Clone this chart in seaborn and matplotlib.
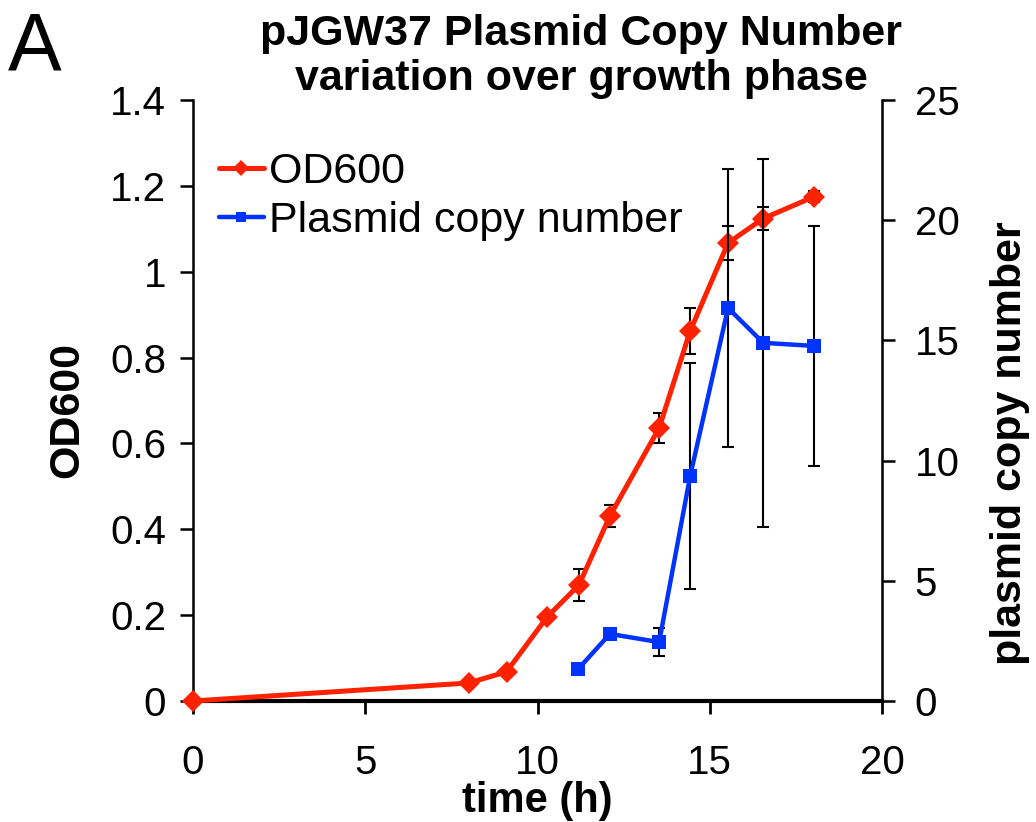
import matplotlib
matplotlib.use("Agg")
import matplotlib.pyplot as plt
import matplotlib.ticker as mticker
import seaborn as sns
import pandas as pd

# OD600 readings
od_time = [0, 8.0, 9.1, 10.28, 11.2, 12.1, 13.53, 14.43, 15.53, 16.55, 18.03]
od_val = [0, 0.042, 0.068, 0.196, 0.27, 0.431, 0.636, 0.862, 1.067, 1.124, 1.175]
od_err = [0, 0.003, 0.01, 0.0, 0.038, 0.025, 0.035, 0.054, 0.04, 0.026, 0.012]

# plasmid copy number
pcn_time = [11.18, 12.1, 13.53, 14.43, 15.53, 16.55, 18.03]
pcn_val = [1.33, 2.79, 2.45, 9.36, 16.35, 14.9, 14.77]
pcn_err = [0, 0, 0.57, 4.7, 5.8, 7.65, 5.0]

red = "#FF2200"
blue = "#0033FF"

sns.set_style("ticks")
plt.rcParams["font.family"] = ["Liberation Sans", "DejaVu Sans"]
for k in ("text.color", "axes.labelcolor", "xtick.color", "ytick.color", "axes.edgecolor"):
    plt.rcParams[k] = "black"

df_od = pd.DataFrame({"time": od_time, "od": od_val})
df_pcn = pd.DataFrame({"time": pcn_time, "pcn": pcn_val})

fig = plt.figure(figsize=(10.36, 8.22), dpi=100)
ax = fig.add_axes([0.1863, 0.1472, 0.8514 - 0.1863, 0.8783 - 0.1472])
ax2 = ax.twinx()

sns.lineplot(data=df_od, x="time", y="od", ax=ax, color=red, lw=3.6,
             marker="D", markersize=11, markeredgewidth=0, label="OD600",
             legend=False, clip_on=False, zorder=3)
ax.errorbar(od_time, od_val, yerr=od_err, fmt="none", ecolor="black",
            elinewidth=1.5, capsize=4.5, capthick=1.5, zorder=2)

sns.lineplot(data=df_pcn, x="time", y="pcn", ax=ax2, color=blue, lw=3.2,
             marker="s", markersize=10, markeredgewidth=0,
             label="Plasmid copy number", legend=False, zorder=3)
ax2.errorbar(pcn_time, pcn_val, yerr=pcn_err, fmt="none", ecolor="black",
             elinewidth=1.5, capsize=4.5, capthick=1.5, zorder=2)

ax.set_xlim(0, 20)
ax.set_ylim(0, 1.4)
ax2.set_ylim(0, 25)
ax.set_xticks([0, 5, 10, 15, 20])
ax.set_yticks([0, 0.2, 0.4, 0.6, 0.8, 1.0, 1.2, 1.4])
ax2.set_yticks([0, 5, 10, 15, 20, 25])
ax.yaxis.set_major_formatter(mticker.FuncFormatter(lambda v, p: "%g" % round(v, 2)))

for a in (ax, ax2):
    a.spines["top"].set_visible(False)
    a.spines["left"].set_linewidth(1.8)
    a.spines["right"].set_linewidth(1.8)
    a.spines["bottom"].set_linewidth(3)
ax.spines["right"].set_visible(False)
ax2.spines["left"].set_visible(False)
ax2.spines["bottom"].set_visible(False)

ax.tick_params(axis="y", direction="out", length=9.5, width=1.8, labelsize=29, pad=10)
ax.tick_params(axis="x", direction="out", length=9, width=2, labelsize=29, pad=22)
ax2.tick_params(axis="y", direction="out", length=9.5, width=1.8, labelsize=29, pad=14)

ax.set_xlabel("time (h)", fontsize=30, fontweight="bold")
ax.xaxis.set_label_coords(0.5, -0.133)
ax.set_ylabel("OD600", fontsize=31, fontweight="bold")
ax.yaxis.set_label_coords(-0.154, 0.484)
ax2.set_ylabel("plasmid copy number", fontsize=31, fontweight="bold")
ax2.yaxis.set_label_coords(1.157, 0.429)

h1, l1 = ax.get_legend_handles_labels()
h2, l2 = ax2.get_legend_handles_labels()
ax2.legend(h1 + h2, l1 + l2, loc="upper left", bbox_to_anchor=(0.0, 0.957),
           frameon=False, fontsize=31, handlelength=1.05, handletextpad=0.12,
           labelspacing=0.22, borderaxespad=0.2, markerscale=0.75)

fig.text(0.561, 0.9453, "pJGW37 Plasmid Copy Number", ha="center", va="baseline",
         fontsize=31, fontweight="bold")
fig.text(0.561, 0.8905, "variation over growth phase", ha="center", va="baseline",
         fontsize=31, fontweight="bold")
fig.text(0.008, 0.915, "A", ha="left", va="baseline", fontsize=58)

fig.savefig("out.png", dpi=100)
